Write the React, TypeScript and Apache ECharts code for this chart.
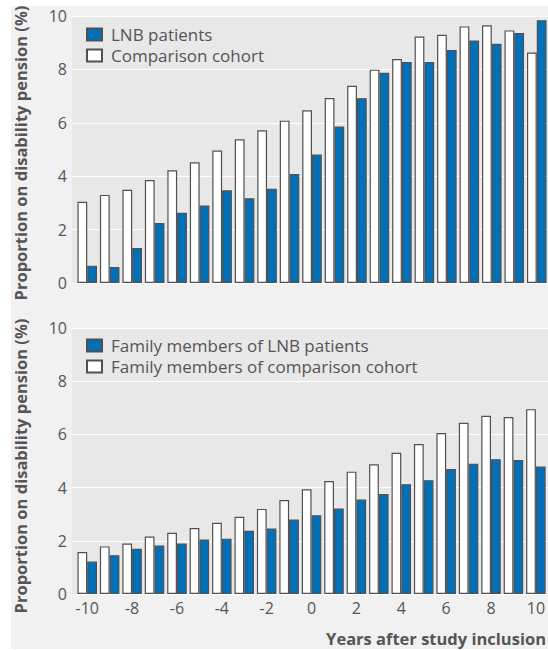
import React, { useEffect, useRef } from "react";
import * as echarts from "echarts";

const years = ["-10","-9","-8","-7","-6","-5","-4","-3","-2","-1","0","1","2","3","4","5","6","7","8","9","10"];
const yTicks = [0, 2, 4, 6, 8, 10];

const lnbPatients = [0.65,0.6,1.31,2.25,2.63,2.9,3.47,3.17,3.53,4.08,4.81,5.86,6.92,7.87,8.28,8.28,8.73,9.08,8.96,9.36,9.84];
const comparisonCohort = [3.04,3.3,3.49,3.86,4.22,4.52,4.96,5.38,5.72,6.08,6.47,6.93,7.39,7.99,8.39,9.23,9.3,9.61,9.65,9.46,8.63];

const familyLnb = [1.22,1.46,1.7,1.82,1.9,2.05,2.08,2.38,2.46,2.8,2.96,3.21,3.55,3.76,4.13,4.28,4.7,4.9,5.07,5.04,4.79];
const familyComparison = [1.58,1.79,1.9,2.16,2.3,2.48,2.68,2.9,3.2,3.53,3.94,4.25,4.6,4.88,5.31,5.64,6.05,6.44,6.7,6.65,6.95];

const seriesNames = {
  lnb: "LNB patients",
  comp: "Comparison cohort",
  famLnb: "Family members of LNB patients",
  famComp: "Family members of comparison cohort",
};

const FONT = "'Open Sans', 'Noto Sans', sans-serif";
const TEXT = "#555555";
const BLUE = "#0070b8";
const BORDER = "#505050";

export default function App() {
  const ref = useRef<HTMLDivElement>(null);

  useEffect(() => {
    if (!ref.current) return;
    const chart = echarts.init(ref.current, undefined, { renderer: "svg" });

    const topY = 16, topH = 267;
    const botY = 328, botH = 266;

    const bgGrid = (top: number, height: number) => ({
      left: 72, right: 0, top, height, show: true,
      backgroundColor: "#e8e8e8", borderWidth: 0, containLabel: false,
    });
    const barGrid = (top: number, height: number) => ({
      left: 76, right: 0, top, height, show: false, containLabel: false,
    });

    const bgX = (gridIndex: number) => ({
      type: "value", gridIndex, min: 0, max: 1, show: false,
    });
    const barX = (gridIndex: number, labels: boolean) => ({
      type: "category", gridIndex, data: years,
      axisLine: { show: false }, axisTick: { show: false },
      axisLabel: {
        show: labels, interval: 1, margin: 6,
        color: TEXT, fontSize: 16, fontFamily: FONT,
      },
      splitLine: { show: false },
    });
    const bgYAxis = (gridIndex: number) => ({
      type: "value", gridIndex, min: 0, max: 10, interval: 2,
      axisLine: { show: false }, axisTick: { show: false },
      axisLabel: {
        margin: 5, color: TEXT, fontSize: 16, fontFamily: FONT,
        formatter: (v: number) => (yTicks.includes(v) ? String(v) : ""),
      },
      splitLine: { show: true, lineStyle: { color: "#ffffff", width: 1.2 } },
    });
    const barYAxis = (gridIndex: number) => ({
      type: "value", gridIndex, min: 0, max: 10, interval: 2, show: false,
      splitLine: { show: false },
    });

    const barSeries = (name: string, data: number[], color: string, idx: number) => ({
      name, type: "bar", data, xAxisIndex: idx, yAxisIndex: idx,
      barGap: "0%", barCategoryGap: "13%",
      itemStyle: { color, borderColor: BORDER, borderWidth: 1.2 },
      emphasis: { disabled: true },
    });

    const legendCommon = {
      orient: "vertical", left: 81, icon: "rect",
      itemWidth: 15, itemHeight: 12, itemGap: 4,
      textStyle: { color: TEXT, fontSize: 17, fontFamily: FONT, padding: [0, 0, 0, 4] },
      selectedMode: false,
    };

    const titleFont = `bold 16.5px ${FONT}`;

    chart.setOption({
      animation: false,
      backgroundColor: "transparent",
      grid: [bgGrid(topY, topH), barGrid(topY, topH), bgGrid(botY, botH), barGrid(botY, botH)],
      xAxis: [bgX(0), barX(1, false), bgX(2), barX(3, true)],
      yAxis: [bgYAxis(0), barYAxis(1), bgYAxis(2), barYAxis(3)],
      legend: [
        { ...legendCommon, top: 21, data: [seriesNames.lnb, seriesNames.comp] },
        { ...legendCommon, top: 332, data: [seriesNames.famLnb, seriesNames.famComp] },
      ],
      series: [
        barSeries(seriesNames.comp, comparisonCohort, "#ffffff", 1),
        barSeries(seriesNames.lnb, lnbPatients, BLUE, 1),
        barSeries(seriesNames.famComp, familyComparison, "#ffffff", 3),
        barSeries(seriesNames.famLnb, familyLnb, BLUE, 3),
      ],
      graphic: [
        {
          type: "text", x: 20, y: 153, rotation: Math.PI / 2,
          style: {
            text: "Proportion on disability pension (%)",
            fill: TEXT, font: titleFont,
            textAlign: "center", textVerticalAlign: "middle",
          },
        },
        {
          type: "text", x: 20, y: 466, rotation: Math.PI / 2,
          style: {
            text: "Proportion on disability pension (%)",
            fill: TEXT, font: titleFont,
            textAlign: "center", textVerticalAlign: "middle",
          },
        },
        {
          type: "text", x: 546, y: 638,
          style: {
            text: "Years after study inclusion",
            fill: TEXT, font: titleFont,
            textAlign: "right", textVerticalAlign: "middle",
          },
        },
      ],
    });

    return () => chart.dispose();
  }, []);

  return (
    <div style={{ position: "absolute", left: 0, top: 0, width: 548, height: 650, background: "#ffffff", overflow: "hidden" }}>
      <div style={{ position: "absolute", left: 11, top: 6, width: 537, height: 643, background: "#f1f1f1" }} />
      <div ref={ref} style={{ position: "absolute", left: 0, top: 0, width: 548, height: 650 }} />
    </div>
  );
}
